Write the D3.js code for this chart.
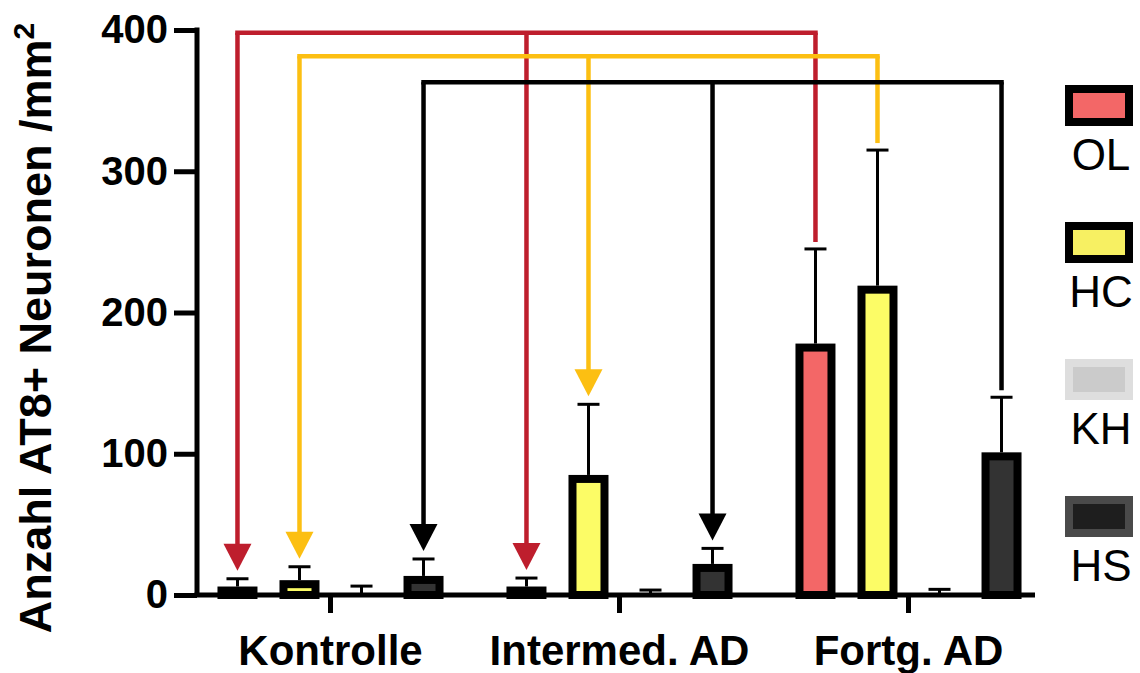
<!DOCTYPE html>
<html><head><meta charset="utf-8">
<script src="https://cdn.jsdelivr.net/npm/d3@7"></script>
<style>
html,body{margin:0;padding:0;background:#fff;}
svg{display:block;font-family:"Liberation Sans",Arial,Helvetica,sans-serif;}
</style></head>
<body>
<svg id="chart" width="1140" height="673"></svg>
<script>
// ---- data ----
const categories = ["Kontrolle", "Intermed. AD", "Fortg. AD"];
const seriesNames = ["OL", "HC", "KH", "HS"];
const meanOL = [6, 6, 178];
const meanHC = [10.5, 85, 219];
const meanKH = [0.5, 1, 1];
const meanHS = [13.5, 22, 101];
const errTopOL = [11.5, 12, 245];
const errTopHC = [20, 135, 315];
const errTopKH = [6.3, 3.5, 4];
const errTopHS = [25.5, 33, 140];
const yTicks = [0, 100, 200, 300, 400];
const yLabelMain = "Anzahl AT8+ Neuronen /mm";
const yLabelSup = "2";
const comparisons = [
  {series: "OL", from: "Fortg. AD", to: ["Kontrolle", "Intermed. AD"], level: 398},
  {series: "HC", from: "Fortg. AD", to: ["Kontrolle", "Intermed. AD"], level: 381.5},
  {series: "HS", from: "Fortg. AD", to: ["Kontrolle", "Intermed. AD"], level: 363}
];

// ---- styles ----
const fillColor = {OL: "#f36767", HC: "#fcfc66", KH: "#cbcbcb", HS: "#333333"};
const strokeColor = {OL: "#000", HC: "#000", KH: "#dcdcdc", HS: "#000"};
const legendFill = {OL: "#f36767", HC: "#f7f062", KH: "#cbcbcb", HS: "#1e1e1e"};
const legendStroke = {OL: "#000", HC: "#000", KH: "#dedede", HS: "#4a4a4a"};
const arrowColor = {OL: "#be1e2d", HC: "#fcbf12", HS: "#000000"};

const means = {OL: meanOL, HC: meanHC, KH: meanKH, HS: meanHS};
const errs = {OL: errTopOL, HC: errTopHC, KH: errTopKH, HS: errTopHS};
const data = [];
categories.forEach((c, i) => seriesNames.forEach(s => data.push({cat: c, s, v: means[s][i], e: errs[s][i]})));
const lookup = (c, s) => data.find(d => d.cat === c && d.s === s);

const svg = d3.select("#chart");
const y = d3.scaleLinear().domain([0, 400]).range([595, 30]);
const x0 = d3.scaleBand().domain(categories).range([186, 1053]).paddingInner(0).paddingOuter(0);
const x1 = d3.scaleBand().domain(seriesNames).range([0, x0.bandwidth()]).paddingInner(0).paddingOuter(0.33);
const cx = (c, s) => x0(c) + x1(s) + x1.bandwidth() / 2;
const barW = 32, bs = 8;

// bars
svg.append("g").selectAll("rect").data(data).join("rect")
  .attr("x", d => cx(d.cat, d.s) - barW / 2)
  .attr("y", d => Math.min(y(d.v) + bs / 2, y(0)))
  .attr("width", barW)
  .attr("height", d => Math.max(0, y(0) - y(d.v) - bs / 2))
  .attr("fill", d => fillColor[d.s])
  .attr("stroke", d => strokeColor[d.s])
  .attr("stroke-width", d => d.s === "KH" ? 0 : bs);

// error bars
const eg = svg.append("g").attr("stroke", "#000").attr("stroke-width", 3);
eg.selectAll("line.stem").data(data).join("line").attr("class", "stem")
  .attr("x1", d => cx(d.cat, d.s)).attr("x2", d => cx(d.cat, d.s))
  .attr("y1", d => y(d.v)).attr("y2", d => y(d.e));
eg.selectAll("line.cap").data(data).join("line").attr("class", "cap")
  .attr("x1", d => cx(d.cat, d.s) - 11).attr("x2", d => cx(d.cat, d.s) + 11)
  .attr("y1", d => y(d.e)).attr("y2", d => y(d.e));

// axes
const yAxis = d3.axisLeft(y).tickValues(yTicks).tickSize(23).tickSizeOuter(0).tickPadding(6);
const ya = svg.append("g").attr("transform", "translate(197,0)").call(yAxis);
ya.select(".domain").attr("stroke-width", 5).attr("stroke", "#000");
ya.selectAll(".tick line").attr("stroke-width", 5).attr("stroke", "#000");
ya.selectAll(".tick text").attr("font-size", 40).attr("font-weight", "bold").attr("fill", "#000")
  .attr("font-family", "'Liberation Sans',Arial,sans-serif");
ya.select(".domain").attr("d", `M0,${y(0)}V${y(400) - 2.5}`);

const xAxis = d3.axisBottom(x0).tickSize(18).tickSizeOuter(0).tickPadding(22);
const xa = svg.append("g").attr("transform", `translate(0,${y(0)})`).call(xAxis);
xa.select(".domain").remove();
xa.selectAll(".tick line").attr("stroke-width", 5).attr("stroke", "#000");
xa.selectAll(".tick text").attr("font-size", 42).attr("font-weight", "bold").attr("fill", "#000")
  .attr("font-family", "'Liberation Sans',Arial,sans-serif");
svg.append("line").attr("x1", 194.5).attr("x2", 1035).attr("y1", y(0)).attr("y2", y(0))
  .attr("stroke", "#000").attr("stroke-width", 5);

// y label
const yl = svg.append("text").attr("transform", "translate(51,328) rotate(-90)")
  .attr("text-anchor", "middle").attr("font-size", 45).attr("font-weight", "bold");
yl.append("tspan").text(yLabelMain);
yl.append("tspan").attr("font-size", 30).attr("dy", -17).text(yLabelSup);

// comparison arrows
const aw = 28, ah = 27, gap = 8;
comparisons.forEach(cmp => {
  const col = arrowColor[cmp.series];
  const g = svg.append("g");
  const src = lookup(cmp.from, cmp.series);
  const xs = cx(cmp.from, cmp.series);
  const ly = y(cmp.level);
  const xsAll = [xs, ...cmp.to.map(t => cx(t, cmp.series))];
  const xmin = d3.min(xsAll), xmax = d3.max(xsAll);
  g.append("line").attr("x1", xs).attr("x2", xs).attr("y1", y(src.e) - 7).attr("y2", ly)
    .attr("stroke", col).attr("stroke-width", 4.5);
  g.append("line").attr("x1", xmin - 2.25).attr("x2", xmax + 2.25).attr("y1", ly).attr("y2", ly)
    .attr("stroke", col).attr("stroke-width", 4.5);
  cmp.to.forEach(t => {
    const d = lookup(t, cmp.series);
    const xt = cx(t, cmp.series);
    const tip = y(d.e) - gap;
    g.append("line").attr("x1", xt).attr("x2", xt).attr("y1", ly).attr("y2", tip - ah + 1)
      .attr("stroke", col).attr("stroke-width", 4.5);
    g.append("path").attr("d", `M${xt - aw / 2},${tip - ah}L${xt + aw / 2},${tip - ah}L${xt},${tip}Z`)
      .attr("fill", col);
  });
});

// legend
const lg = svg.append("g");
seriesNames.forEach((s, i) => {
  const top = 85 + i * 137;
  lg.append("rect").attr("x", 1069).attr("y", top + 4).attr("width", 60).attr("height", 33)
    .attr("fill", legendFill[s]).attr("stroke", legendStroke[s]).attr("stroke-width", 8);
  lg.append("text").attr("x", 1101).attr("y", top + 85).attr("text-anchor", "middle")
    .attr("font-size", 44).attr("fill", "#000").text(s);
});
</script>
</body></html>
